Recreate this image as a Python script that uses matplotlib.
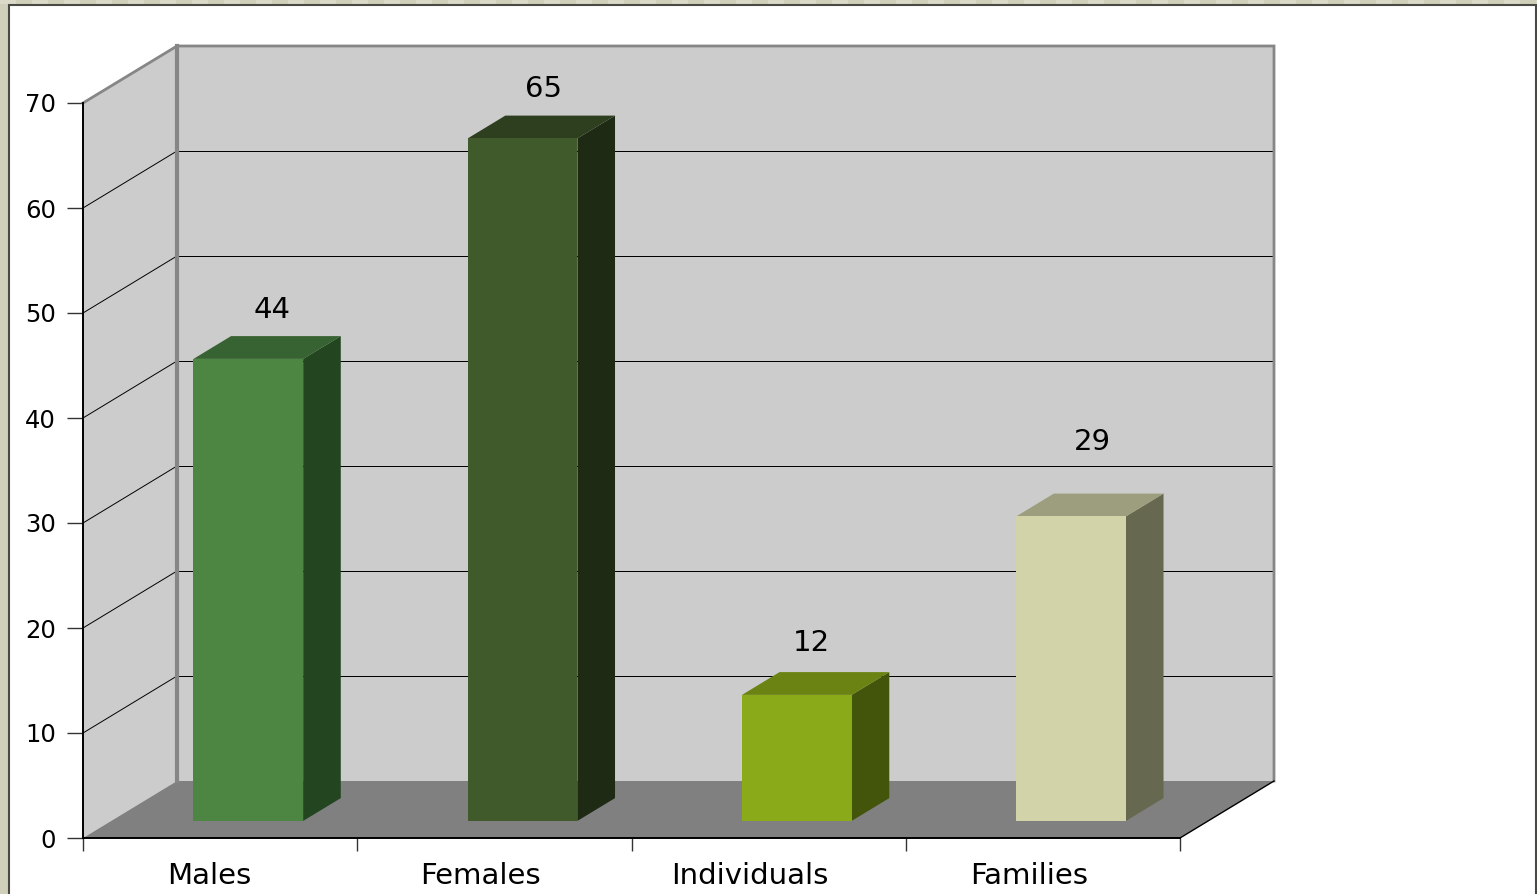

# IMPORT LIBRARIES

import matplotlib
matplotlib.use("Agg")
import matplotlib.pyplot as plt
from matplotlib.patches import Rectangle

# CHART DATA

categories = ["Males", "Females", "Individuals", "Families"]
values = [44, 65, 12, 29]
y_ticks = [0, 10, 20, 30, 40, 50, 60, 70]

# BAR COLOURS (FRONT, TOP, SIDE)

front_colors = ["#4c8642", "#415a2b", "#8aaa1a", "#d2d3a8"]
top_colors = ["#376231", "#2d3f1e", "#6b8312", "#9d9e7e"]
side_colors = ["#234520", "#1e2a14", "#43550a", "#66684f"]

# LAYOUT

W, H = 1537, 894
DEPTH_X = 94 / 274.25    # full depth of the box in category units
DEPTH_Y = 57 / 10.5      # full depth of the box in value units
BAR_HALF = 0.2
BAR_FRONT = 0.3
BAR_BACK = 0.7

label_x = [0.459, 1.448, 2.432, 3.449]
value_offsets = [(24, 49), (21, 49), (15, 52), (21, 74)]

WALL = "#cccccc"
FLOOR = "#808080"
EDGE = "#868686"
BEIGE = "#d0cfba"
TICK_FONT = 17.5
LABEL_FONT = 21


def proj(x, y, depth):
    return x + depth * DEPTH_X, y + depth * DEPTH_Y


def face(ax, points, color, z):
    xs = [p[0] for p in points]
    ys = [p[1] for p in points]
    ax.fill(xs, ys, color=color, lw=0, zorder=z, clip_on=False)


# PAGE BACKGROUND

plt.rcParams["font.family"] = ["DejaVu Sans"]

fig = plt.figure(figsize=(W / 100, H / 100), dpi=100, facecolor=BEIGE)

for i in range(0, W, 32):
    fig.add_artist(Rectangle(
        (i / W, 1 - 4 / H), 16 / W, 4 / H,
        transform=fig.transFigure, facecolor="#dbdac9", edgecolor="none",
        zorder=-2
    ))

fig.add_artist(Rectangle(
    (9 / W, -0.01), (1536 - 9) / W, (H - 5) / H + 0.01,
    transform=fig.transFigure, facecolor="white",
    edgecolor="#4a4a44", linewidth=1.5, zorder=-1
))

# AXES (FRONT PLANE OF THE BOX)

ax = fig.add_axes([83 / W, (H - 838) / H, (1180 - 83) / W, (838 - 103) / H])
ax.patch.set_visible(False)
ax.set_xlim(0, 4)
ax.set_ylim(0, 70)

for spine in ["top", "right"]:
    ax.spines[spine].set_visible(False)
ax.spines["left"].set_zorder(8)
ax.spines["bottom"].set_zorder(8)
ax.spines["left"].set_linewidth(1.4)
ax.spines["bottom"].set_linewidth(1.4)

ax.set_yticks(y_ticks)
ax.tick_params(axis="y", length=11.5, width=1, color="#333333",
               labelsize=TICK_FONT, pad=8)
ax.set_xticks(range(len(categories) + 1))
ax.set_xticklabels([])
ax.tick_params(axis="x", which="major", length=9, width=1, color="#333333")
ax.set_xticks(label_x, minor=True)
ax.set_xticklabels(categories, minor=True)
ax.tick_params(axis="x", which="minor", length=0, labelsize=LABEL_FONT, pad=17.5)

# WALLS AND FLOOR

top = y_ticks[-1]
face(ax, [proj(0, 0, 0), proj(0, top, 0), proj(0, top, 1), proj(0, 0, 1)], WALL, 1)
face(ax, [proj(0, 0, 1), proj(0, top, 1), proj(4, top, 1), proj(4, 0, 1)], WALL, 1)
face(ax, [proj(0, 0, 0), proj(0, 0, 1), proj(4, 0, 1), proj(4, 0, 0)], FLOOR, 2)

# GRID LINES

for v in y_ticks[1:-1]:
    a, b, c = proj(0, v, 0), proj(0, v, 1), proj(4, v, 1)
    ax.plot([a[0], b[0]], [a[1], b[1]], color="black", lw=0.7,
            zorder=3, clip_on=False)
    ax.plot([b[0], c[0]], [b[1], c[1]], color="black", lw=0.72,
            zorder=3, clip_on=False, snap=True)

# WALL EDGES

a, b, c, d = proj(0, top, 0), proj(0, top, 1), proj(4, top, 1), proj(4, 0, 1)
ax.plot([a[0], b[0], c[0], d[0]], [a[1], b[1], c[1], d[1]], color=EDGE, lw=2,
        zorder=4, clip_on=False, solid_joinstyle="miter")
e = proj(0, 0, 1)
ax.plot([b[0], e[0]], [b[1], e[1]], color=EDGE, lw=3, zorder=4, clip_on=False)
f = proj(4, 0, 0)
ax.plot([f[0], d[0]], [f[1], d[1]], color="black", lw=1, zorder=4, clip_on=False)

# BARS

for i, v in enumerate(values):
    x0 = i + 0.5 - BAR_HALF
    x1 = i + 0.5 + BAR_HALF

    face(ax, [proj(x1, 0, BAR_FRONT), proj(x1, v, BAR_FRONT),
              proj(x1, v, BAR_BACK), proj(x1, 0, BAR_BACK)], side_colors[i], 5)
    face(ax, [proj(x0, v, BAR_FRONT), proj(x0, v, BAR_BACK),
              proj(x1, v, BAR_BACK), proj(x1, v, BAR_FRONT)], top_colors[i], 5)
    face(ax, [proj(x0, 0, BAR_FRONT), proj(x0, v, BAR_FRONT),
              proj(x1, v, BAR_FRONT), proj(x1, 0, BAR_FRONT)], front_colors[i], 6)

    dx, dy = value_offsets[i]
    ax.annotate(
        str(v),
        xy=proj(i + 0.5, v, BAR_FRONT),
        xytext=(dx * 0.72, dy * 0.72),
        textcoords="offset points",
        ha="center",
        va="center",
        fontsize=LABEL_FONT,
        color="black",
        zorder=7,
        annotation_clip=False
    )

fig.savefig("out.png", dpi=100, facecolor=fig.get_facecolor())
